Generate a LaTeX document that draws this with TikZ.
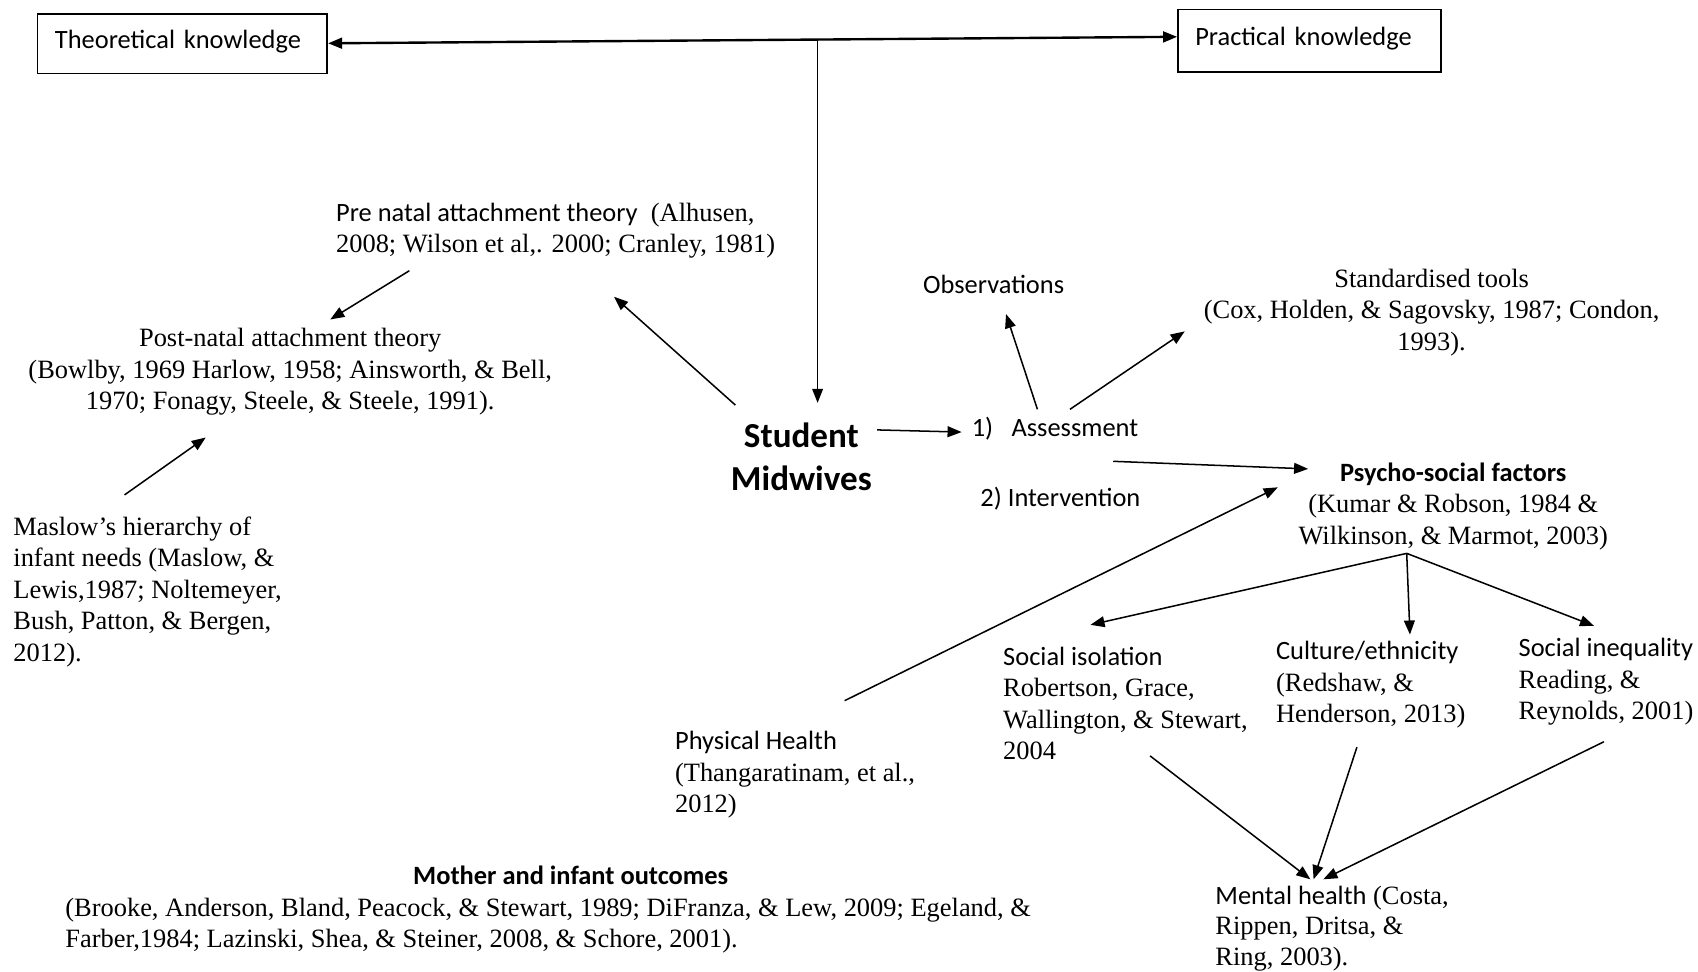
\documentclass[tikz,border=0pt]{standalone}
\usepackage{fontspec}
\setmainfont{Liberation Serif}
\setsansfont{Carlito}
\usetikzlibrary{arrows.meta}
\tikzset{
  lbl/.style={inner sep=0pt, yshift=-1pt, font=\fontsize{12.2}{14.5}\selectfont},
  tl/.style={lbl, anchor=north west, align=left},
  tc/.style={lbl, anchor=north, align=center},
  bl/.style={lbl, anchor=base west},
  arr/.style={-{Triangle[length=6.5pt,width=5pt]}, line width=0.7pt},
  harr/.style={{Triangle[length=6.5pt,width=5pt]}-{Triangle[length=6.5pt,width=5pt]}, line width=1.1pt},
  kbox/.style={draw, line width=0.75pt, rectangle, anchor=north west, inner xsep=8pt, inner ysep=0pt,
    minimum height=27.5pt, text height=9pt, text depth=4.5pt,
    font=\sffamily\fontsize{12.2}{14.5}\selectfont, align=left}
}
\begin{document}
\begin{tikzpicture}[x=0.5pt,y=-0.5pt]
\useasboundingbox (0,0) rectangle (1568,897);
% boxes
\node[kbox, text width=117.5pt] (theo) at (34,12) {Theoretical knowledge};
\node[kbox, text width=105.5pt, minimum height=29pt] (prac) at (1087,8) {Practical knowledge};
% central node
\node[inner sep=0pt, align=center, font=\sffamily\bfseries\fontsize{16.2}{20}\selectfont] (stud) at (740,422) {Student\\Midwives};
% text blocks
\node[tl] (pre) at (310,185) {{\sffamily Pre natal attachment theory}\ \ (Alhusen,\\2008; Wilson et al,. 2000; Cranley, 1981)};
\node[tc] (post) at (268,301) {Post-natal attachment theory\\(Bowlby, 1969 Harlow, 1958; Ainsworth, \& Bell,\\1970; Fonagy, Steele, \& Steele, 1991).};
\node[tl] (maslow) at (12,475) {Maslow’s hierarchy of\\infant needs (Maslow, \&\\Lewis,1987; Noltemeyer,\\Bush, Patton, \& Bergen,\\2012).};
\node[bl, font=\sffamily\fontsize{12.2}{14.5}\selectfont] (obs) at (852,269) {Observations};
\node[tc] (std) at (1322,246) {Standardised tools\\(Cox, Holden, \& Sagovsky, 1987; Condon,\\1993).};
\node[bl, font=\sffamily\fontsize{12.2}{14.5}\selectfont] (assess) at (897,401) {1)\hspace{8.5pt}Assessment};
\node[bl, font=\sffamily\fontsize{12.2}{14.5}\selectfont] (interv) at (905,466) {2) Intervention};
\node[tc] (psy) at (1342,425) {{\sffamily\bfseries Psycho-social factors}\\(Kumar \& Robson, 1984 \&\\Wilkinson, \& Marmot, 2003)};
\node[tl] (iso) at (926,595) {{\sffamily Social isolation}\\Robertson, Grace,\\Wallington, \& Stewart,\\2004};
\node[tl] (cult) at (1178,590) {{\sffamily Culture/ethnicity}\\(Redshaw, \&\\Henderson, 2013)};
\node[tl] (ineq) at (1402,587) {{\sffamily Social inequality}\\Reading, \&\\Reynolds, 2001)};
\node[tl] (phys) at (623,673) {{\sffamily Physical Health}\\(Thangaratinam, et al.,\\2012)};
\node[tl, yshift=1pt, font=\fontsize{12.2}{14}\selectfont] (ment) at (1122,818) {{\sffamily Mental health} (Costa,\\Rippen, Dritsa, \&\\Ring, 2003).};
\node[lbl, anchor=base, font=\sffamily\bfseries\fontsize{12.2}{14.5}\selectfont] (moth) at (527,815) {Mother and infant outcomes};
\node[tl] (mothref) at (60,827) {(Brooke, Anderson, Bland, Peacock, \& Stewart, 1989; DiFranza, \& Lew, 2009; Egeland, \&\\Farber,1984; Lazinski, Shea, \& Steiner, 2008, \& Schore, 2001).};
% connector end points
\coordinate (ta) at (303,40);
\coordinate (pa) at (1087,34);
\coordinate (jn) at (755,36.5);
\coordinate (stop) at (755,372);
\coordinate (s1) at (679,374); \coordinate (p1) at (567,274);
\coordinate (p2) at (378,250); \coordinate (q2) at (305,295);
\coordinate (m1) at (115,457); \coordinate (q1) at (190,404);
\coordinate (s2) at (810,397); \coordinate (a1) at (888,399);
\coordinate (a2) at (958,378); \coordinate (o1) at (929,290);
\coordinate (a3) at (988,378); \coordinate (t1) at (1094,306);
\coordinate (a4) at (1028,426); \coordinate (y1) at (1208,433);
\coordinate (h1) at (780,647); \coordinate (y2) at (1180,450);
\coordinate (y3) at (1299,511);
\coordinate (i1) at (1007,577); \coordinate (c1) at (1302,586); \coordinate (e1) at (1472,578);
\coordinate (i2) at (1062,698); \coordinate (c2) at (1253,690); \coordinate (e2) at (1481,685);
\coordinate (n1) at (1210,812); \coordinate (n2) at (1213,812); \coordinate (n3) at (1222,812);
% connectors
\draw[harr] (ta) -- (pa);
\draw[arr] (jn) -- (stop);
\draw[arr] (s1) -- (p1);
\draw[arr] (p2) -- (q2);
\draw[arr] (m1) -- (q1);
\draw[arr] (s2) -- (a1);
\draw[arr] (a2) -- (o1);
\draw[arr] (a3) -- (t1);
\draw[arr] (a4) -- (y1);
\draw[arr] (h1) -- (y2);
\draw[arr] (y3) -- (i1);
\draw[arr] (y3) -- (c1);
\draw[arr] (y3) -- (e1);
\draw[arr] (i2) -- (n1);
\draw[arr] (c2) -- (n2);
\draw[arr] (e2) -- (n3);
\end{tikzpicture}
\end{document}
